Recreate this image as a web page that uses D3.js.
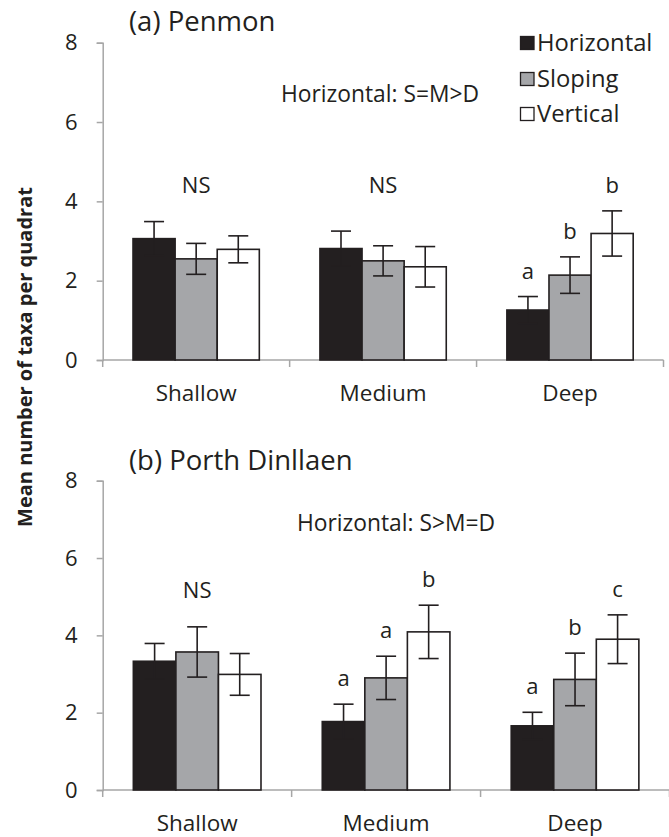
<!DOCTYPE html>
<html>
<head>
<meta charset="utf-8">
<script src="https://d3js.org/d3.v7.min.js"></script>
<style>
  body { margin: 0; background: #fff; }
  svg text { font-family: "Open Sans", "Noto Sans", sans-serif; fill: #231f20; }
</style>
</head>
<body>
<div id="chart"></div>
<script>
// Data
const depths = ["Shallow", "Medium", "Deep"];
const orientations = ["Horizontal", "Sloping", "Vertical"];
const yTicks = [0, 2, 4, 6, 8];

// (a) Penmon
const penmonMeans = [[3.06, 2.55, 2.79], [2.81, 2.50, 2.35], [1.26, 2.14, 3.19]];
const penmonErr   = [[0.43, 0.39, 0.34], [0.44, 0.38, 0.51], [0.34, 0.46, 0.57]];
const penmonLetters = [["", "", ""], ["", "", ""], ["a", "b", "b"]];
const penmonGroupNote = ["NS", "NS", ""];

// (b) Porth Dinllaen
const porthMeans = [[3.33, 3.57, 2.99], [1.77, 2.90, 4.09], [1.66, 2.86, 3.90]];
const porthErr   = [[0.46, 0.65, 0.54], [0.45, 0.56, 0.69], [0.35, 0.68, 0.63]];
const porthLetters = [["", "", ""], ["a", "a", "b"], ["a", "b", "c"]];
const porthGroupNote = ["NS", "", ""];

const colors = ["#231f20", "#a5a6a9", "#ffffff"];
const ink = "#231f20";
const axisGray = "#a6a6a6";

const W = 669, H = 837;
const svg = d3.select("#chart").append("svg")
    .attr("width", W).attr("height", H);

const panels = [
    { title: "(a) Penmon", note: "Horizontal: S=M>D", means: penmonMeans, err: penmonErr,
      letters: penmonLetters, groupNote: penmonGroupNote,
      top: 42.7, bottom: 360, right: 663.5, noteX: 380, noteY: 102, titleY: 31 },
    { title: "(b) Porth Dinllaen", note: "Horizontal: S>M=D", means: porthMeans, err: porthErr,
      letters: porthLetters, groupNote: porthGroupNote,
      top: 480.7, bottom: 790, right: 669.5, noteX: 396, noteY: 531, titleY: 470 }
];

const left = 102.7;

panels.forEach(p => {
    const g = svg.append("g");

    const y = d3.scaleLinear().domain([0, 8]).range([p.bottom, p.top]);
    const x0 = d3.scaleBand().domain(depths).range([left, p.right]).padding(0);
    const x1 = d3.scaleBand().domain(orientations).range([0, x0.bandwidth()])
        .paddingInner(0).paddingOuter(0.72);

    // y axis
    const yAxis = g.append("g")
        .attr("transform", `translate(${left},0)`)
        .call(d3.axisLeft(y).tickValues(yTicks).tickSize(6).tickPadding(19).tickFormat(d3.format("d")));
    yAxis.select(".domain").attr("stroke", axisGray).attr("stroke-width", 1.5);
    yAxis.selectAll(".tick line").attr("stroke", axisGray).attr("stroke-width", 1.5);
    yAxis.selectAll(".tick text").style("font-size", "22px").attr("fill", ink);

    // x axis (ticks at category boundaries)
    const xAxisG = g.append("g").attr("transform", `translate(0,${p.bottom})`);
    xAxisG.append("line")
        .attr("x1", left).attr("x2", p.right)
        .attr("stroke", axisGray).attr("stroke-width", 1.5);
    const bounds = depths.map(d => x0(d)).concat([x0(depths[depths.length - 1]) + x0.bandwidth()]);
    xAxisG.selectAll("line.tk").data(bounds).join("line")
        .attr("class", "tk")
        .attr("x1", d => d).attr("x2", d => d)
        .attr("y1", 0).attr("y2", 7)
        .attr("stroke", axisGray).attr("stroke-width", 1.5);
    xAxisG.selectAll("text").data(depths).join("text")
        .attr("x", d => x0(d) + x0.bandwidth() / 2)
        .attr("y", 41)
        .attr("text-anchor", "middle")
        .style("font-size", "22.5px")
        .text(d => d);

    // bars
    const rows = [];
    depths.forEach((d, i) => orientations.forEach((o, j) => {
        rows.push({ depth: d, orient: o, j: j, v: p.means[i][j], e: p.err[i][j], letter: p.letters[i][j] });
    }));

    g.selectAll("rect.bar").data(rows).join("rect")
        .attr("class", "bar")
        .attr("x", d => x0(d.depth) + x1(d.orient))
        .attr("y", d => y(d.v))
        .attr("width", x1.bandwidth())
        .attr("height", d => y(0) - y(d.v))
        .attr("fill", d => colors[d.j])
        .attr("stroke", ink)
        .attr("stroke-width", 1.6);

    // error bars
    const cap = 10;
    const eb = g.selectAll("g.eb").data(rows).join("g").attr("class", "eb")
        .attr("transform", d => `translate(${x0(d.depth) + x1(d.orient) + x1.bandwidth() / 2},0)`);
    eb.append("line")
        .attr("y1", d => y(d.v - d.e)).attr("y2", d => y(d.v + d.e))
        .attr("stroke", ink).attr("stroke-width", 1.6);
    eb.append("line")
        .attr("x1", -cap).attr("x2", cap)
        .attr("y1", d => y(d.v + d.e)).attr("y2", d => y(d.v + d.e))
        .attr("stroke", ink).attr("stroke-width", 1.6);
    eb.append("line")
        .attr("x1", -cap).attr("x2", cap)
        .attr("y1", d => y(d.v - d.e)).attr("y2", d => y(d.v - d.e))
        .attr("stroke", ink).attr("stroke-width", 1.6);

    // letters above error bars
    g.selectAll("text.letter").data(rows.filter(d => d.letter)).join("text")
        .attr("class", "letter")
        .attr("x", d => x0(d.depth) + x1(d.orient) + x1.bandwidth() / 2)
        .attr("y", d => y(d.v + d.e) - 18)
        .attr("text-anchor", "middle")
        .style("font-size", "22px")
        .text(d => d.letter);

    // NS notes over groups, at a common height above the tallest error bar
    const nsIdx = depths.map((d, i) => i).filter(i => p.groupNote[i]);
    const nsTop = d3.min(nsIdx, i => d3.min(orientations, (o, j) => y(p.means[i][j] + p.err[i][j])));
    g.selectAll("text.ns").data(nsIdx).join("text")
        .attr("class", "ns")
        .attr("x", i => x0(depths[i]) + x0.bandwidth() / 2)
        .attr("y", nsTop - 29)
        .attr("text-anchor", "middle")
        .style("font-size", "22px")
        .text(i => p.groupNote[i]);

    // panel title and comparison note
    g.append("text").attr("x", 129).attr("y", p.titleY)
        .style("font-size", "27.5px").text(p.title);
    g.append("text").attr("x", p.noteX).attr("y", p.noteY)
        .attr("text-anchor", "middle")
        .style("font-size", "22.8px").text(p.note);
});

// legend (top panel)
const legend = svg.append("g").attr("transform", "translate(520,0)");
const legY = [43, 79, 114];
orientations.forEach((o, j) => {
    legend.append("rect")
        .attr("x", 0.5).attr("y", legY[j] - 6.5)
        .attr("width", 13.5).attr("height", 13)
        .attr("fill", colors[j]).attr("stroke", ink).attr("stroke-width", 1.3);
    legend.append("text")
        .attr("x", 17).attr("y", legY[j] + 7.5)
        .style("font-size", "23.8px").text(o);
});

// shared y-axis title
svg.append("text")
    .attr("transform", "translate(32,357) rotate(-90)")
    .attr("text-anchor", "middle")
    .style("font-size", "20px")
    .style("font-weight", "bold")
    .text("Mean number of taxa per quadrat");
</script>
</body>
</html>
